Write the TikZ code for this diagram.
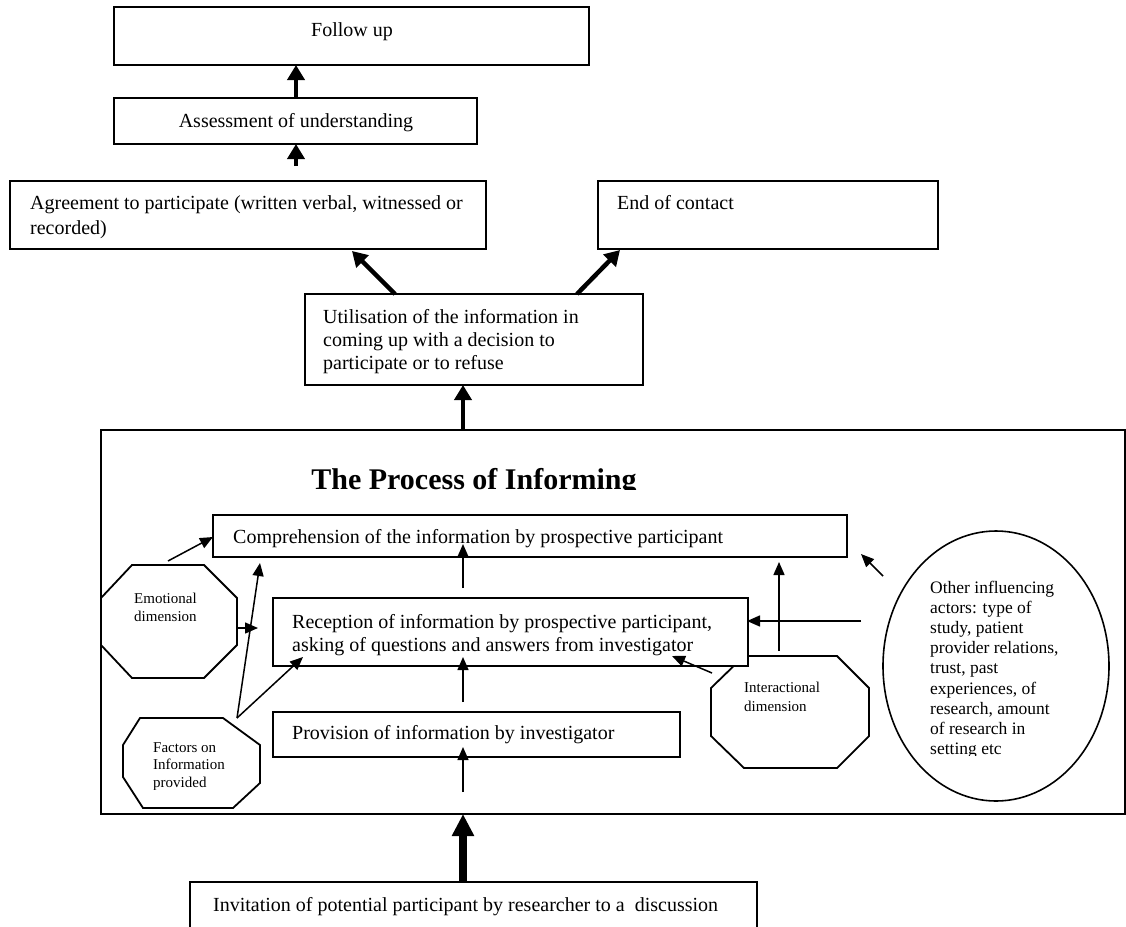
\documentclass[tikz,border=0pt]{standalone}
\usepackage{fontspec}
\setmainfont{Liberation Serif}
\usetikzlibrary{arrows.meta}
% left-aligned stack of lines whose baseline is the first line
\newcommand\stack[1]{\vtop{\halign{##\hfil\cr#1\crcr}}}

\begin{document}
\begin{tikzpicture}[x=1pt,y=-1pt,
  box/.style={draw, line width=1.8pt, fill=white, inner sep=0pt, outer sep=0pt, anchor=north west},
  outline/.style={draw, line width=1.8pt, fill=white},
  txt/.style={inner sep=0pt, anchor=base west, font=\fontsize{20}{23}\selectfont},
  ctxt/.style={inner sep=0pt, anchor=base, font=\fontsize{20}{23}\selectfont},
  small/.style={inner sep=0pt, anchor=base west},
  side/.style={inner sep=0pt, anchor=base west, font=\fontsize{17.5}{20.2}\selectfont},
  thin/.style={line width=1.5pt, -{Triangle[length=13pt,width=11pt]}},
  thick/.style={line width=4.5pt, -{Triangle[length=15pt,width=17pt]}},
  heavy/.style={line width=8pt, -{Triangle[length=22pt,width=21pt]}},
]
\useasboundingbox (0,0) rectangle (1126,926);
\clip (0,0) rectangle (1126,926);
\fill[white] (0,0) rectangle (1126,926);

% ---------- upper chain ----------
\node[box, minimum width=475pt, minimum height=58pt] (follow) at (114,7) {};
\node[box, minimum width=363pt, minimum height=46pt] (assess) at (114,98) {};
\node[box, minimum width=476pt, minimum height=68pt] (agree)  at (10,181) {};
\node[box, minimum width=340pt, minimum height=68pt] (endc)   at (598,181) {};
\node[box, minimum width=338pt, minimum height=91pt] (util)   at (305,294) {};

\node[ctxt] (followtxt) at (352,36) {Follow up};
\node[ctxt] (assesstxt) at (296,127) {Assessment of understanding};
\node[txt, font=\fontsize{20}{25}\selectfont] (agreetxt) at (30,209)
  {\stack{Agreement to participate (written verbal, witnessed or\cr recorded)}};
\node[txt] (endtxt) at (617,209) {End of contact};
\node[txt] (utiltxt) at (323,323)
  {\stack{Utilisation of the information in\cr coming up with a decision to\cr participate or to refuse}};

% ---------- the process of informing ----------
\node[box, fill=none, minimum width=1024pt, minimum height=384pt] (proc) at (101,430) {};

\begin{scope}
  \clip (101,440) rectangle (1125,489);
  \node[inner sep=0pt, anchor=base, font=\bfseries\fontsize{30}{33}\selectfont] (title) at (474,489)
    {The Process of Informing};
\end{scope}

% side influences
\draw[outline] (132,565) -- (204,565) -- (237,598) -- (237,645) -- (204,678)
  -- (132,678) -- (101,645) -- (101,598) -- cycle;
\draw[outline] (140,718) -- (223,718) -- (260,745) -- (260,783) -- (233,808)
  -- (143,808) -- (123,777) -- (123,745) -- cycle;
\draw[outline] (744,656) -- (837,656) -- (869,688) -- (869,736) -- (837,768)
  -- (744,768) -- (711,736) -- (711,688) -- cycle;
\draw[outline, line width=1.6pt] (996,666) ellipse [x radius=113, y radius=135];

% stages
\node[box, minimum width=634pt, minimum height=42pt] (comp)  at (213,515) {};
\node[box, minimum width=475pt, minimum height=68pt] (recep) at (273,598) {};
\node[box, minimum width=407pt, minimum height=45pt] (prov)  at (273,712) {};
\node[box, minimum width=567pt, minimum height=70pt] (invit) at (190,882) {};

\node[txt] (comptxt) at (233,543) {Comprehension of the information by prospective participant};
\node[txt] (receptxt) at (292,628)
  {\stack{Reception of information by prospective participant,\cr asking of questions and answers from investigator}};
\node[txt] (provtxt) at (292,739) {Provision of information by investigator};
\node[txt] (invittxt) at (213,911) {Invitation of potential participant by researcher to a\ \ discussion};

\node[small, font=\fontsize{15}{18}\selectfont] (emottxt) at (134,603) {\stack{Emotional\cr dimension}};
\begin{scope}
  \clip (120,730) rectangle (262,789);
  \node[small, font=\fontsize{15}{17.5}\selectfont] (facttxt) at (153,752)
    {\stack{Factors on\cr Information\cr provided}};
\end{scope}
\node[small, font=\fontsize{15}{19}\selectfont] (intertxt) at (744,692) {\stack{Interactional\cr dimension}};
\begin{scope}
  \clip (900,560) rectangle (1100,755);
  \node[side] (othertxt) at (930,593)
    {\stack{Other influencing\cr actors: type of\cr study, patient\cr provider relations,\cr trust, past\cr
      experiences, of\cr research, amount\cr of research in\cr setting etc}};
\end{scope}

% ---------- arrow end points ----------
\coordinate (agreetop)  at (296,166);
\coordinate (agreetip)  at (352,251);
\coordinate (utilL)     at (395,294);
\coordinate (utilR)     at (577,294);
\coordinate (endtip)    at (620,250);
\coordinate (emotA)     at (168,561);
\coordinate (emotAtip)  at (213,537);
\coordinate (emotB)     at (237,628);
\coordinate (emotBtip)  at (258,628);
\coordinate (factA)     at (237,718);
\coordinate (factAtip)  at (260,563);
\coordinate (factBtip)  at (303,657);
\coordinate (recepout)  at (463,588);
\coordinate (comptip)   at (463,544);
\coordinate (provout)   at (463,702);
\coordinate (receptip)  at (463,657);
\coordinate (procin)    at (463,792);
\coordinate (provtip)   at (463,747);
\coordinate (interA)    at (779,651);
\coordinate (interAtip) at (779,562);
\coordinate (interB)    at (712,673);
\coordinate (interBtip) at (672,656);
\coordinate (otherA)    at (861,621);
\coordinate (otherAtip) at (747,621);
\coordinate (otherB)    at (883,576);
\coordinate (otherBtip) at (861,554);

% ---------- arrows ----------
\draw[thick] (assess.north) ++(0.5,0) coordinate (assessup) -- (assessup |- follow.south);
\draw[thick] (agreetop) -- (agreetop |- assess.south);
\draw[thick] (utilL) -- (agreetip);
\draw[thick] (utilR) -- (endtip);
\draw[thick] (proc.north -| procin) -- (procin |- util.south);
\draw[heavy] (invit.north -| procin) -- (procin |- proc.south);

\draw[thin] (emotA) -- (emotAtip);
\draw[thin] (emotB) -- (emotBtip);
\draw[thin] (factA) -- (factAtip);
\draw[thin] (factA) -- (factBtip);
\draw[thin] (recepout) -- (comptip);
\draw[thin] (provout) -- (receptip);
\draw[thin] (procin) -- (provtip);
\draw[thin] (interA) -- (interAtip);
\draw[thin] (interB) -- (interBtip);
\draw[thin] (otherA) -- (otherAtip);
\draw[thin] (otherB) -- (otherBtip);
\end{tikzpicture}
\end{document}
